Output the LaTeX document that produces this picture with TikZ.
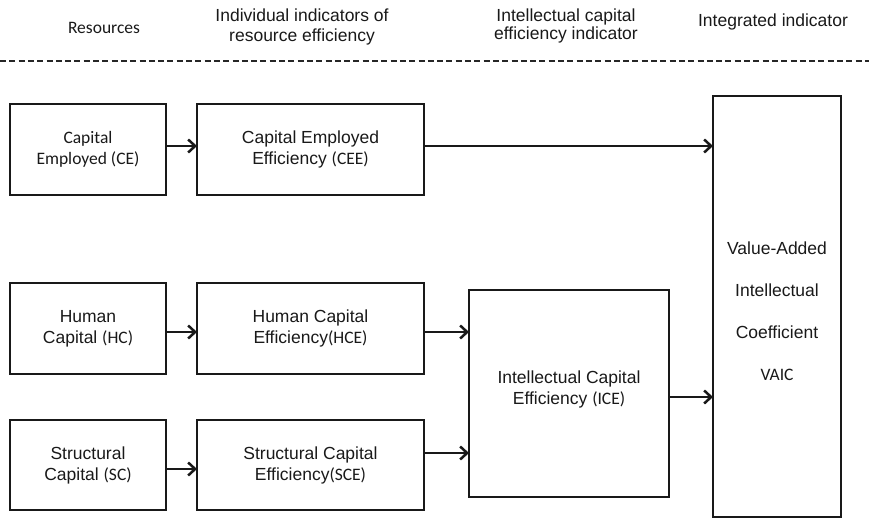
\documentclass[tikz,border=0pt]{standalone}
\usepackage{fontspec}
\setmainfont{Liberation Sans}
\newfontfamily\carl{Carlito}
\usetikzlibrary{arrows.meta}
\begin{document}
\begin{tikzpicture}[x=1pt,y=-1pt,
  every node/.style={inner sep=0pt,outer sep=0pt,text=black!90},
  txt/.style={font=\fontsize{17.5}{21}\selectfont,align=center},
  box/.style={draw=black!90,line width=2.5pt,txt},
  arr/.style={draw=black!90,line width=2.5pt,-{Straight Barb[length=7pt,width=13pt,line width=2.5pt]}}]
\useasboundingbox (0,0) rectangle (869,522);

% column headings
\node[txt,font=\carl\fontsize{17.5}{21}\selectfont] (hres) at (104,28) {Resources};
\node[txt,font=\fontsize{17.5}{20}\selectfont] (hind) at (302,27) {Individual indicators of\\resource efficiency};
\node[txt,font=\fontsize{17.5}{18}\selectfont] (hice) at (566,26) {Intellectual capital\\efficiency indicator};
\node[txt] (hint) at (773,22) {Integrated indicator};
\coordinate (dl) at (0,61);
\coordinate (dr) at (869,61);
\draw[line width=1.4pt,dash pattern=on 6pt off 3.3pt,black!85] (dl) -- (dr);

% resources
\node[box,minimum width=156,minimum height=91,font=\carl\fontsize{17.5}{21}\selectfont] (ce) at (88,149.5) {Capital\\Employed (CE)};
\node[box,minimum width=156,minimum height=91] (hc) at (88,328.5) {Human\\Capital {\carl(HC)}};
\node[box,minimum width=156,minimum height=90] (sc) at (88,465) {Structural\\Capital {\carl(SC)}};

% individual efficiency indicators
\node[box,minimum width=227,minimum height=91] (cee) at (310.5,149.5) {Capital Employed\\Efficiency {\carl(CEE)}};
\node[box,minimum width=227,minimum height=91] (hce) at (310.5,328.5) {Human Capital\\Efficiency{\carl(HCE)}};
\node[box,minimum width=227,minimum height=90] (sce) at (310.5,465) {Structural Capital\\Efficiency{\carl(SCE)}};

% intellectual capital efficiency
\node[box,minimum width=200,minimum height=207] (ice) at (569,393.5) {Intellectual Capital\\Efficiency {\carl(ICE)}\\[-9pt]};

% integrated indicator
\node[box,minimum width=128,minimum height=421,font=\fontsize{17.5}{42}\selectfont] (vaic) at (777,306.5) {\\[-19pt]Value-Added\\Intellectual\\Coefficient\\{\carl VAIC}};

% connectors
\draw[arr] ([yshift=3.5pt]ce.east) -- ([yshift=3.5pt]cee.west);
\draw[arr] ([yshift=-3.5pt]hc.east) -- ([yshift=-3.5pt]hce.west);
\draw[arr] ([yshift=-4pt]sc.east) -- ([yshift=-4pt]sce.west);

\path (cee.east -| vaic.west) coordinate (vin1);
\draw[arr] ([yshift=3.5pt]cee.east) -- ([yshift=3.5pt]vin1);

\path (hce.east -| ice.west) coordinate (iin1);
\path (sce.east -| ice.west) coordinate (iin2);
\draw[arr] ([yshift=-3.5pt]hce.east) -- ([yshift=-3.5pt]iin1);
\draw[arr] ([yshift=12pt]sce.east) -- ([yshift=12pt]iin2);

\path (ice.east -| vaic.west) coordinate (vin2);
\draw[arr] ([yshift=-3.5pt]ice.east) -- ([yshift=-3.5pt]vin2);
\end{tikzpicture}
\end{document}
